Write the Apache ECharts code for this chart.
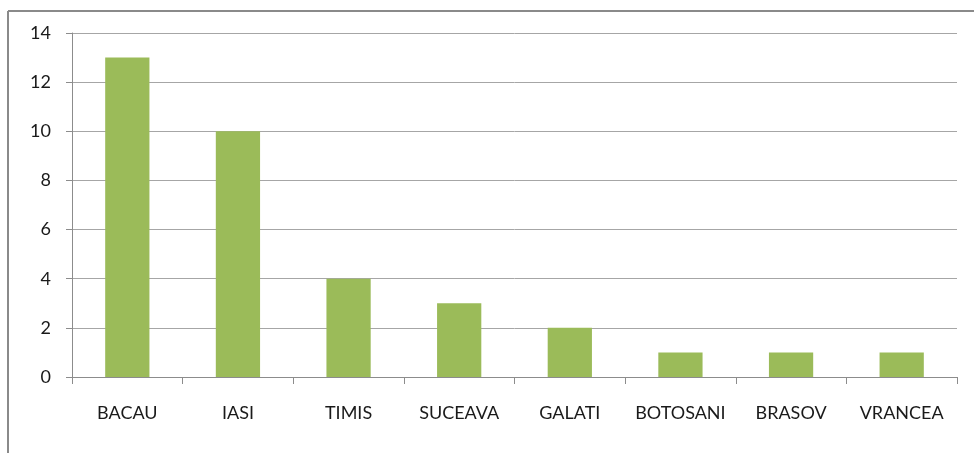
<!DOCTYPE html>
<html>
<head>
<meta charset="utf-8">
<script src="https://cdn.jsdelivr.net/npm/echarts@6/dist/echarts.min.js"></script>
<style>
  html, body { margin: 0; padding: 0; background: #fff; }
  #chart { width: 974px; height: 453px; }
</style>
</head>
<body>
<div id="chart"></div>
<script>
const categories = ["BACAU", "IASI", "TIMIS", "SUCEAVA", "GALATI", "BOTOSANI", "BRASOV", "VRANCEA"];
const values = [13, 10, 4, 3, 2, 1, 1, 1];

const chart = echarts.init(document.getElementById("chart"));
const labelFont = { fontFamily: "Lato", fontSize: 18, color: "#1a1a1a" };

chart.setOption({
  animation: false,
  backgroundColor: "#fff",
  grid: { left: 72, right: 17, top: 33, bottom: 76 },
  // frame line at top and left
  graphic: [
    { type: "line", shape: { x1: 8, y1: 11, x2: 974, y2: 11 }, style: { stroke: "#8a8a8a", lineWidth: 2 } },
    { type: "line", shape: { x1: 8, y1: 11, x2: 8, y2: 453 }, style: { stroke: "#8a8a8a", lineWidth: 2 } }
  ],
  xAxis: {
    type: "category",
    data: categories,
    axisLine: { lineStyle: { color: "#8c8c8c", width: 1 } },
    axisTick: { show: true, length: 7, interval: 0, lineStyle: { color: "#8c8c8c" } },
    axisLabel: Object.assign({ margin: 27, interval: 0, hideOverlap: false }, labelFont),
    splitLine: { show: false }
  },
  yAxis: {
    type: "value",
    min: 0,
    max: 14,
    interval: 2,
    axisLine: { show: true, lineStyle: { color: "#8c8c8c", width: 1 } },
    axisTick: { show: true, length: 6, lineStyle: { color: "#8c8c8c" } },
    axisLabel: Object.assign({ margin: 21 }, labelFont),
    splitLine: { show: true, lineStyle: { color: "#a6a6a6", width: 1 } }
  },
  series: [
    {
      type: "bar",
      data: values,
      barWidth: "40%",
      itemStyle: { color: "#9bbb59" }
    }
  ]
});
</script>
</body>
</html>
